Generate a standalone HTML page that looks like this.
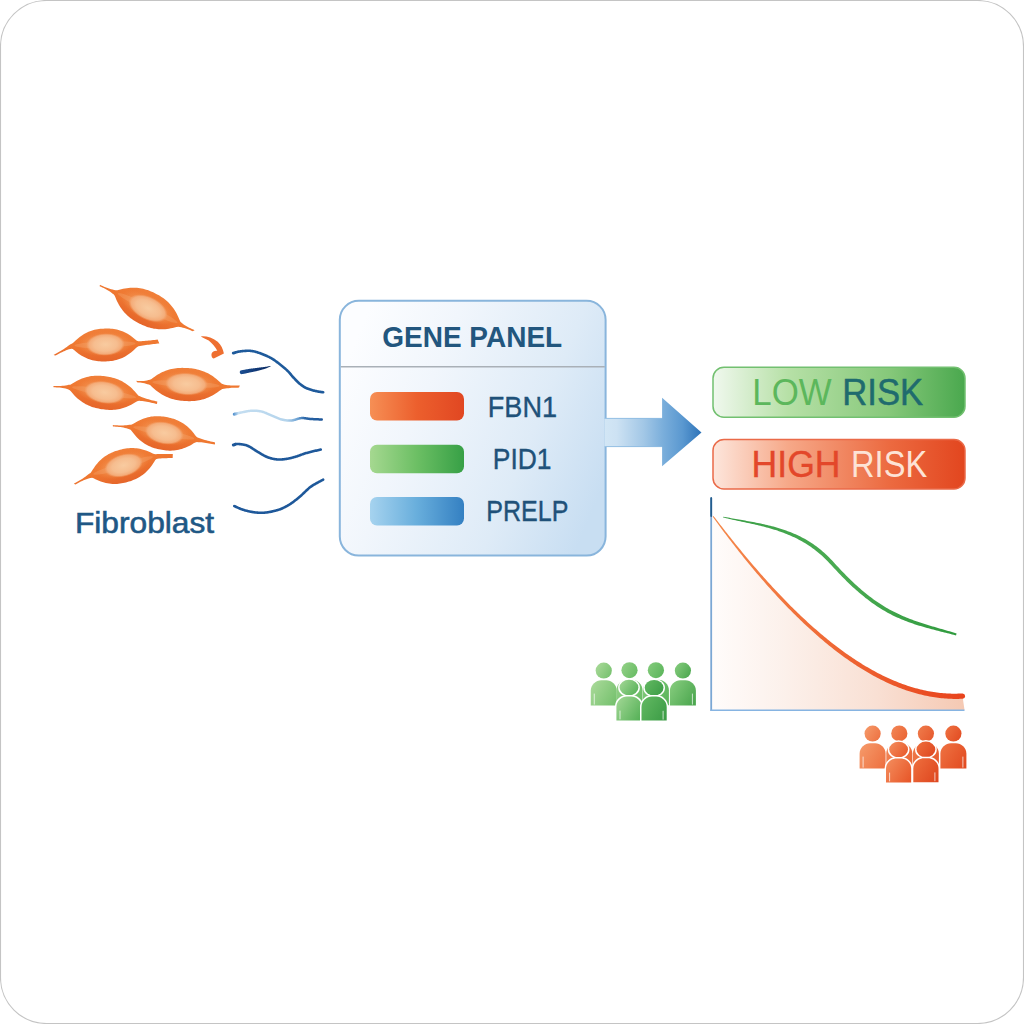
<!DOCTYPE html>
<html><head><meta charset="utf-8">
<style>
html,body{margin:0;padding:0;background:#fff;}
body{width:1024px;height:1024px;overflow:hidden;}
svg{display:block;font-family:"Liberation Sans",sans-serif;}
</style></head>
<body>
<svg width="1024" height="1024" viewBox="0 0 1024 1024">
<defs>
  <linearGradient id="cellBody" x1="0" y1="0" x2="0" y2="1">
    <stop offset="0" stop-color="#f07f39"/>
    <stop offset="0.5" stop-color="#ef7831"/>
    <stop offset="1" stop-color="#e5652a"/>
  </linearGradient>
  <radialGradient id="cellHalo" cx="0.5" cy="0.5" r="0.5">
    <stop offset="0.6" stop-color="#f39a5a" stop-opacity="0.7"/>
    <stop offset="1" stop-color="#f08a48" stop-opacity="0"/>
  </radialGradient>
  <radialGradient id="cellNuc" cx="0.5" cy="0.5" r="0.5">
    <stop offset="0" stop-color="#f8cba0"/>
    <stop offset="0.6" stop-color="#f6bd8f"/>
    <stop offset="0.85" stop-color="#f4ae7c" stop-opacity="0.95"/>
    <stop offset="1" stop-color="#f3a26c" stop-opacity="0"/>
  </radialGradient>
  <linearGradient id="panelFill" x1="0" y1="0.3" x2="1" y2="0.7">
    <stop offset="0" stop-color="#fcfdff"/>
    <stop offset="0.3" stop-color="#f1f6fc"/>
    <stop offset="0.7" stop-color="#deebf7"/>
    <stop offset="1" stop-color="#c8def2"/>
  </linearGradient>
  <linearGradient id="barO" x1="0" x2="1"><stop offset="0" stop-color="#f68f55"/><stop offset="0.5" stop-color="#ec5f2d"/><stop offset="1" stop-color="#e14722"/></linearGradient>
  <linearGradient id="barG" x1="0" x2="1"><stop offset="0" stop-color="#a5d890"/><stop offset="0.5" stop-color="#6cbf64"/><stop offset="1" stop-color="#37a046"/></linearGradient>
  <linearGradient id="barB" x1="0" x2="1"><stop offset="0" stop-color="#a6d3ef"/><stop offset="0.5" stop-color="#68aedc"/><stop offset="1" stop-color="#3480c2"/></linearGradient>
  <linearGradient id="arrowG" gradientUnits="userSpaceOnUse" x1="605" y1="0" x2="702" y2="0"><stop offset="0" stop-color="#d2e6f5"/><stop offset="0.12" stop-color="#cde2f3"/><stop offset="0.4" stop-color="#a2c7e6"/><stop offset="0.6" stop-color="#7aaedb"/><stop offset="0.8" stop-color="#5a98d0"/><stop offset="1" stop-color="#2c72b8"/></linearGradient>
  <linearGradient id="lowG" x1="0" x2="1"><stop offset="0" stop-color="#f0f8ee"/><stop offset="0.3" stop-color="#b6e0a6"/><stop offset="0.7" stop-color="#86c87a"/><stop offset="1" stop-color="#4aa84e"/></linearGradient>
  <linearGradient id="highG" x1="0" x2="1"><stop offset="0" stop-color="#fde6dc"/><stop offset="0.3" stop-color="#f6a888"/><stop offset="0.7" stop-color="#ec6a40"/><stop offset="1" stop-color="#e2461f"/></linearGradient>
  <linearGradient id="chartFill" x1="0" x2="1"><stop offset="0" stop-color="#fffcfb"/><stop offset="0.3" stop-color="#fcf0ea"/><stop offset="0.65" stop-color="#f9e0d4"/><stop offset="1" stop-color="#f5c9b3"/></linearGradient>
  <linearGradient id="line2G" gradientUnits="userSpaceOnUse" x1="233" y1="0" x2="323" y2="0"><stop offset="0" stop-color="#4b8ccc"/><stop offset="0.06" stop-color="#c4def1"/><stop offset="0.6" stop-color="#b4d4ec"/><stop offset="0.72" stop-color="#6aa0d2"/><stop offset="0.8" stop-color="#2a66a8"/><stop offset="1" stop-color="#1d5598"/></linearGradient>
  <linearGradient id="dashG" gradientUnits="userSpaceOnUse" x1="240" y1="0" x2="271" y2="0"><stop offset="0" stop-color="#1b4f92"/><stop offset="0.6" stop-color="#0f3572"/><stop offset="1" stop-color="#0a2a60"/></linearGradient>
  <linearGradient id="pplG" gradientUnits="userSpaceOnUse" x1="591" y1="0" x2="697" y2="0"><stop offset="0" stop-color="#a8da99"/><stop offset="0.5" stop-color="#76c26f"/><stop offset="1" stop-color="#46a64d"/></linearGradient>
  <linearGradient id="pplO" gradientUnits="userSpaceOnUse" x1="860" y1="0" x2="966" y2="0"><stop offset="0" stop-color="#f4905c"/><stop offset="0.5" stop-color="#ee6e3a"/><stop offset="1" stop-color="#e24c22"/></linearGradient>
  <linearGradient id="curveO" gradientUnits="userSpaceOnUse" x1="711" y1="0" x2="965" y2="0"><stop offset="0" stop-color="#f58a4c"/><stop offset="1" stop-color="#e8431c"/></linearGradient>
  <linearGradient id="curveG" gradientUnits="userSpaceOnUse" x1="720" y1="0" x2="960" y2="0"><stop offset="0" stop-color="#3a9e45"/><stop offset="0.5" stop-color="#4aab52"/><stop offset="1" stop-color="#2f9a3e"/></linearGradient>
  
</defs>

<!-- outer frame -->
<rect x="0.5" y="0.5" width="1023" height="1023" rx="46" ry="46" fill="#fff" stroke="#c4c4c4" stroke-width="1.1"/>

<!-- fibroblast cells -->
<g transform="translate(147.4,308.5) rotate(26.3)"><path d="M-53.02,-0.20 L-51.52,-0.25 L-50.02,-0.30 L-48.52,-0.38 L-47.02,-0.47 L-45.53,-0.60 L-44.03,-0.77 L-42.54,-0.98 L-41.04,-1.25 L-39.55,-1.58 L-38.04,-1.97 L-36.53,-2.31 L-35.02,-3.04 L-33.51,-4.30 L-32.00,-5.61 L-30.50,-6.84 L-29.00,-8.00 L-27.50,-9.07 L-26.00,-10.06 L-24.50,-10.97 L-23.00,-11.80 L-21.50,-12.57 L-20.00,-13.26 L-18.50,-13.88 L-17.00,-14.44 L-15.50,-14.94 L-14.00,-15.37 L-12.50,-15.75 L-11.00,-16.07 L-9.50,-16.34 L-8.00,-16.56 L-6.50,-16.73 L-5.00,-16.86 L-3.50,-16.95 L-2.00,-17.00 L-0.50,-17.01 L1.00,-17.01 L2.50,-16.98 L4.00,-16.92 L5.50,-16.82 L7.00,-16.68 L8.50,-16.49 L10.00,-16.26 L11.50,-15.97 L13.00,-15.63 L14.50,-15.23 L16.00,-14.78 L17.50,-14.26 L19.00,-13.68 L20.50,-13.03 L22.00,-12.32 L23.50,-11.53 L25.00,-10.68 L26.50,-9.74 L28.00,-8.72 L29.50,-7.62 L31.00,-6.44 L32.50,-5.18 L33.99,-3.87 L35.48,-2.71 L36.95,-2.33 L38.44,-1.99 L39.94,-1.74 L41.45,-1.56 L42.95,-1.44 L44.46,-1.37 L45.96,-1.35 L47.46,-1.36 L48.96,-1.39 L50.46,-1.44 L51.96,-1.50 L50.79,0.35 L49.29,0.42 L47.79,0.50 L46.29,0.61 L44.79,0.75 L43.30,0.93 L41.80,1.16 L40.31,1.44 L38.81,1.79 L37.30,2.19 L35.78,2.55 L34.26,3.65 L32.75,4.96 L31.25,6.24 L29.75,7.43 L28.25,8.55 L26.75,9.58 L25.25,10.53 L23.75,11.40 L22.25,12.19 L20.75,12.92 L19.25,13.58 L17.75,14.17 L16.25,14.69 L14.75,15.16 L13.25,15.57 L11.75,15.92 L10.25,16.21 L8.75,16.46 L7.25,16.65 L5.75,16.80 L4.25,16.91 L2.75,16.98 L1.25,17.01 L-0.25,17.01 L-1.75,17.00 L-3.25,16.96 L-4.75,16.88 L-6.25,16.76 L-7.75,16.59 L-9.25,16.38 L-10.75,16.12 L-12.25,15.81 L-13.75,15.44 L-15.25,15.01 L-16.75,14.53 L-18.25,13.98 L-19.75,13.36 L-21.25,12.69 L-22.75,11.94 L-24.25,11.11 L-25.75,10.22 L-27.25,9.24 L-28.75,8.18 L-30.25,7.04 L-31.75,5.82 L-33.25,4.52 L-34.74,3.24 L-36.22,2.39 L-37.71,2.12 L-39.20,1.79 L-40.71,1.54 L-42.21,1.35 L-43.72,1.22 L-45.22,1.14 L-46.73,1.10 L-48.23,1.09 L-49.73,1.11 L-51.23,1.15 L-52.73,1.19 Z" fill="url(#cellBody)"/><ellipse cx="0" cy="-1" rx="29.6" ry="12.8" fill="url(#cellHalo)"/><ellipse cx="0" cy="-0.5" rx="33.3" ry="3.4" fill="#f6b07c" opacity="0.3"/><ellipse cx="0.5" cy="-0.5" rx="21.1" ry="11.6" fill="url(#cellNuc)"/></g>
<g transform="translate(105.0,345.0) rotate(-2.1)"><path d="M-51.81,8.07 L-50.47,7.40 L-49.12,6.73 L-47.78,6.05 L-46.45,5.35 L-45.12,4.64 L-43.81,3.92 L-42.50,3.16 L-41.21,2.38 L-39.93,1.57 L-38.67,0.72 L-37.39,-0.16 L-36.01,-1.06 L-34.45,-1.89 L-32.76,-2.63 L-31.11,-3.96 L-29.53,-5.34 L-28.00,-6.64 L-26.50,-7.84 L-25.00,-8.95 L-23.50,-9.97 L-22.00,-10.89 L-20.50,-11.74 L-19.00,-12.50 L-17.50,-13.18 L-16.00,-13.79 L-14.50,-14.33 L-13.00,-14.79 L-11.50,-15.19 L-10.00,-15.53 L-8.50,-15.81 L-7.00,-16.03 L-5.50,-16.19 L-4.00,-16.31 L-2.50,-16.38 L-1.00,-16.41 L0.50,-16.42 L2.00,-16.40 L3.50,-16.34 L5.00,-16.24 L6.50,-16.09 L8.00,-15.89 L9.50,-15.63 L11.00,-15.31 L12.50,-14.94 L14.00,-14.49 L15.50,-13.98 L17.00,-13.40 L18.50,-12.74 L20.00,-12.00 L21.50,-11.19 L23.00,-10.29 L24.50,-9.31 L26.00,-8.23 L27.50,-7.06 L29.00,-5.80 L30.49,-4.46 L31.96,-3.18 L33.42,-2.47 L34.87,-2.45 L36.33,-2.47 L37.82,-2.52 L39.32,-2.58 L40.82,-2.66 L42.31,-2.74 L43.81,-2.84 L45.31,-2.93 L46.81,-3.04 L48.31,-3.15 L49.80,-3.26 L51.30,-3.38 L52.80,-3.50 L54.36,0.39 L52.86,0.51 L51.37,0.63 L49.87,0.75 L48.37,0.88 L46.88,1.01 L45.38,1.14 L43.89,1.28 L42.39,1.42 L40.90,1.58 L39.41,1.74 L37.91,1.91 L36.40,2.09 L34.87,2.26 L33.32,2.44 L31.78,3.36 L30.26,4.68 L28.75,6.01 L27.25,7.26 L25.75,8.41 L24.25,9.48 L22.75,10.45 L21.25,11.33 L19.75,12.13 L18.25,12.85 L16.75,13.50 L15.25,14.07 L13.75,14.57 L12.25,15.00 L10.75,15.37 L9.25,15.68 L7.75,15.93 L6.25,16.12 L4.75,16.26 L3.25,16.35 L1.75,16.40 L0.25,16.42 L-1.25,16.41 L-2.75,16.37 L-4.25,16.29 L-5.75,16.17 L-7.25,15.99 L-8.75,15.76 L-10.25,15.48 L-11.75,15.13 L-13.25,14.72 L-14.75,14.24 L-16.25,13.69 L-17.75,13.07 L-19.25,12.38 L-20.75,11.60 L-22.25,10.75 L-23.75,9.80 L-25.25,8.77 L-26.75,7.65 L-28.25,6.43 L-29.71,5.12 L-31.10,3.79 L-32.40,2.73 L-33.59,2.58 L-34.85,2.65 L-36.22,2.95 L-37.64,3.38 L-39.07,3.87 L-40.49,4.40 L-41.89,4.96 L-43.27,5.55 L-44.65,6.17 L-46.01,6.80 L-47.37,7.45 L-48.72,8.10 L-50.07,8.77 Z" fill="url(#cellBody)"/><ellipse cx="0" cy="-1" rx="27.2" ry="12.3" fill="url(#cellHalo)"/><ellipse cx="0" cy="-0.5" rx="30.6" ry="3.3" fill="#f6b07c" opacity="0.3"/><ellipse cx="0.5" cy="-0.5" rx="19.4" ry="11.2" fill="url(#cellNuc)"/></g>
<g transform="translate(104.0,392.8) rotate(9.2)"><path d="M-51.09,1.31 L-49.59,1.10 L-48.09,0.89 L-46.60,0.66 L-45.11,0.40 L-43.62,0.11 L-42.14,-0.24 L-40.66,-0.64 L-39.19,-1.10 L-37.69,-1.62 L-36.15,-2.19 L-34.58,-2.66 L-33.03,-3.84 L-31.51,-5.14 L-30.00,-6.39 L-28.50,-7.56 L-27.00,-8.64 L-25.50,-9.64 L-24.00,-10.56 L-22.50,-11.39 L-21.00,-12.16 L-19.50,-12.85 L-18.00,-13.47 L-16.50,-14.03 L-15.00,-14.52 L-13.50,-14.95 L-12.00,-15.33 L-10.50,-15.64 L-9.00,-15.90 L-7.50,-16.11 L-6.00,-16.27 L-4.50,-16.39 L-3.00,-16.47 L-1.50,-16.50 L0.00,-16.51 L1.50,-16.50 L3.00,-16.47 L4.50,-16.39 L6.00,-16.27 L7.50,-16.11 L9.00,-15.90 L10.50,-15.64 L12.00,-15.33 L13.50,-14.95 L15.00,-14.52 L16.50,-14.03 L18.00,-13.47 L19.50,-12.85 L21.00,-12.16 L22.50,-11.39 L24.00,-10.56 L25.50,-9.64 L27.00,-8.64 L28.50,-7.56 L30.00,-6.39 L31.50,-5.14 L33.02,-3.84 L34.54,-2.68 L36.08,-2.24 L37.61,-1.92 L39.12,-1.62 L40.61,-1.34 L42.10,-1.09 L43.59,-0.87 L45.08,-0.68 L46.57,-0.51 L48.06,-0.35 L49.56,-0.21 L51.05,-0.09 L52.55,0.03 L54.04,0.15 L54.11,2.56 L52.62,2.45 L51.12,2.34 L49.62,2.24 L48.12,2.16 L46.63,2.08 L45.13,2.03 L43.62,2.00 L42.12,1.99 L40.61,2.01 L39.11,2.06 L37.62,2.16 L36.15,2.32 L34.70,2.58 L33.23,3.64 L31.74,4.93 L30.25,6.19 L28.75,7.37 L27.25,8.47 L25.75,9.48 L24.25,10.41 L22.75,11.26 L21.25,12.04 L19.75,12.74 L18.25,13.37 L16.75,13.94 L15.25,14.44 L13.75,14.89 L12.25,15.27 L10.75,15.59 L9.25,15.86 L7.75,16.08 L6.25,16.25 L4.75,16.37 L3.25,16.46 L1.75,16.50 L0.25,16.51 L-1.25,16.51 L-2.75,16.47 L-4.25,16.41 L-5.75,16.30 L-7.25,16.14 L-8.75,15.94 L-10.25,15.69 L-11.75,15.38 L-13.25,15.02 L-14.75,14.60 L-16.25,14.12 L-17.75,13.57 L-19.25,12.96 L-20.75,12.28 L-22.25,11.53 L-23.75,10.70 L-25.25,9.80 L-26.75,8.81 L-28.25,7.75 L-29.75,6.59 L-31.24,5.36 L-32.72,4.07 L-34.18,2.88 L-35.61,2.39 L-37.06,2.13 L-38.56,1.94 L-40.08,1.85 L-41.61,1.83 L-43.13,1.88 L-44.64,1.98 L-46.15,2.11 L-47.66,2.28 L-49.16,2.46 L-50.66,2.66 Z" fill="url(#cellBody)"/><ellipse cx="0" cy="-1" rx="28.8" ry="12.4" fill="url(#cellHalo)"/><ellipse cx="0" cy="-0.5" rx="32.4" ry="3.3" fill="#f6b07c" opacity="0.3"/><ellipse cx="0.5" cy="-0.5" rx="20.5" ry="11.2" fill="url(#cellNuc)"/></g>
<g transform="translate(186.0,384.5) rotate(3.4)"><path d="M-49.80,-0.70 L-48.29,-0.70 L-46.79,-0.72 L-45.28,-0.78 L-43.78,-0.89 L-42.27,-1.07 L-40.76,-1.33 L-39.26,-1.71 L-37.75,-2.20 L-36.25,-2.53 L-34.75,-3.54 L-33.25,-4.78 L-31.75,-6.00 L-30.25,-7.15 L-28.75,-8.22 L-27.25,-9.21 L-25.75,-10.13 L-24.25,-10.97 L-22.75,-11.74 L-21.25,-12.44 L-19.75,-13.08 L-18.25,-13.66 L-16.75,-14.17 L-15.25,-14.63 L-13.75,-15.03 L-12.25,-15.38 L-10.75,-15.68 L-9.25,-15.92 L-7.75,-16.12 L-6.25,-16.27 L-4.75,-16.39 L-3.25,-16.46 L-1.75,-16.50 L-0.25,-16.51 L1.25,-16.51 L2.75,-16.48 L4.25,-16.42 L5.75,-16.32 L7.25,-16.18 L8.75,-15.99 L10.25,-15.76 L11.75,-15.48 L13.25,-15.15 L14.75,-14.77 L16.25,-14.33 L17.75,-13.84 L19.25,-13.28 L20.75,-12.66 L22.25,-11.98 L23.75,-11.23 L25.25,-10.41 L26.75,-9.52 L28.25,-8.56 L29.75,-7.51 L31.25,-6.39 L32.75,-5.19 L34.24,-3.95 L35.72,-2.82 L37.19,-2.35 L38.66,-2.13 L40.16,-1.94 L41.68,-1.81 L43.20,-1.74 L44.71,-1.71 L46.23,-1.72 L47.74,-1.75 L49.25,-1.81 L50.76,-1.89 L52.27,-1.98 L53.78,-2.08 L53.16,-0.04 L51.65,0.07 L50.14,0.18 L48.64,0.31 L47.13,0.46 L45.63,0.64 L44.12,0.85 L42.63,1.10 L41.13,1.40 L39.62,1.74 L38.09,2.11 L36.55,2.41 L35.02,3.34 L33.51,4.57 L32.00,5.80 L30.50,6.96 L29.00,8.05 L27.50,9.05 L26.00,9.98 L24.50,10.83 L23.00,11.62 L21.50,12.33 L20.00,12.98 L18.50,13.57 L17.00,14.09 L15.50,14.56 L14.00,14.97 L12.50,15.33 L11.00,15.63 L9.50,15.88 L8.00,16.09 L6.50,16.25 L5.00,16.37 L3.50,16.45 L2.00,16.50 L0.50,16.51 L-1.00,16.51 L-2.50,16.49 L-4.00,16.43 L-5.50,16.34 L-7.00,16.20 L-8.50,16.03 L-10.00,15.80 L-11.50,15.53 L-13.00,15.21 L-14.50,14.84 L-16.00,14.41 L-17.50,13.92 L-19.00,13.38 L-20.50,12.77 L-22.00,12.10 L-23.50,11.36 L-25.00,10.56 L-26.50,9.68 L-28.00,8.72 L-29.50,7.69 L-31.00,6.58 L-32.50,5.40 L-34.00,4.16 L-35.50,2.97 L-37.00,2.32 L-38.51,1.94 L-40.01,1.51 L-41.52,1.19 L-43.02,0.97 L-44.53,0.83 L-46.03,0.75 L-47.54,0.71 L-49.05,0.70 Z" fill="url(#cellBody)"/><ellipse cx="0" cy="-1" rx="30.0" ry="12.4" fill="url(#cellHalo)"/><ellipse cx="0" cy="-0.5" rx="33.8" ry="3.3" fill="#f6b07c" opacity="0.3"/><ellipse cx="0.5" cy="-0.5" rx="21.4" ry="11.2" fill="url(#cellNuc)"/></g>
<g transform="translate(163.7,433.4) rotate(10.8)"><path d="M-51.58,1.30 L-50.08,1.13 L-48.58,0.94 L-47.09,0.75 L-45.59,0.53 L-44.10,0.29 L-42.61,0.01 L-41.13,-0.31 L-39.65,-0.67 L-38.17,-1.08 L-36.68,-1.54 L-35.15,-2.03 L-33.59,-2.42 L-32.04,-3.50 L-30.51,-4.86 L-29.00,-6.18 L-27.50,-7.41 L-26.00,-8.55 L-24.50,-9.60 L-23.00,-10.56 L-21.50,-11.43 L-20.00,-12.22 L-18.50,-12.94 L-17.00,-13.58 L-15.50,-14.14 L-14.00,-14.64 L-12.50,-15.07 L-11.00,-15.44 L-9.50,-15.75 L-8.00,-16.00 L-6.50,-16.20 L-5.00,-16.34 L-3.50,-16.44 L-2.00,-16.49 L-0.50,-16.51 L1.00,-16.51 L2.50,-16.48 L4.00,-16.41 L5.50,-16.30 L7.00,-16.14 L8.50,-15.92 L10.00,-15.65 L11.50,-15.33 L13.00,-14.94 L14.50,-14.48 L16.00,-13.96 L17.50,-13.37 L19.00,-12.71 L20.50,-11.97 L22.00,-11.15 L23.50,-10.25 L25.00,-9.26 L26.50,-8.18 L28.00,-7.01 L29.50,-5.75 L31.00,-4.41 L32.51,-3.09 L34.02,-2.32 L35.54,-2.09 L37.05,-1.83 L38.56,-1.61 L40.07,-1.42 L41.58,-1.27 L43.09,-1.14 L44.60,-1.05 L46.11,-0.97 L47.63,-0.91 L49.14,-0.87 L50.65,-0.84 L52.16,-0.81 L52.38,1.39 L50.87,1.37 L49.35,1.35 L47.84,1.34 L46.33,1.35 L44.81,1.37 L43.30,1.41 L41.79,1.48 L40.27,1.58 L38.76,1.71 L37.25,1.88 L35.74,2.10 L34.24,2.32 L32.74,2.91 L31.25,4.18 L29.75,5.53 L28.25,6.81 L26.75,7.99 L25.25,9.09 L23.75,10.09 L22.25,11.00 L20.75,11.84 L19.25,12.59 L17.75,13.26 L16.25,13.87 L14.75,14.40 L13.25,14.87 L11.75,15.27 L10.25,15.60 L8.75,15.88 L7.25,16.10 L5.75,16.27 L4.25,16.39 L2.75,16.47 L1.25,16.51 L-0.25,16.51 L-1.75,16.50 L-3.25,16.45 L-4.75,16.36 L-6.25,16.22 L-7.75,16.04 L-9.25,15.80 L-10.75,15.50 L-12.25,15.14 L-13.75,14.72 L-15.25,14.23 L-16.75,13.67 L-18.25,13.05 L-19.75,12.35 L-21.25,11.57 L-22.75,10.71 L-24.25,9.76 L-25.75,8.73 L-27.25,7.61 L-28.75,6.39 L-30.24,5.09 L-31.71,3.74 L-33.17,2.62 L-34.61,2.33 L-36.07,2.08 L-37.58,1.93 L-39.10,1.85 L-40.62,1.83 L-42.14,1.86 L-43.65,1.93 L-45.16,2.04 L-46.66,2.17 L-48.17,2.32 L-49.67,2.49 L-51.17,2.67 Z" fill="url(#cellBody)"/><ellipse cx="0" cy="-1" rx="27.6" ry="12.4" fill="url(#cellHalo)"/><ellipse cx="0" cy="-0.5" rx="31.1" ry="3.3" fill="#f6b07c" opacity="0.3"/><ellipse cx="0.5" cy="-0.5" rx="19.7" ry="11.2" fill="url(#cellNuc)"/></g>
<g transform="translate(123.3,466.0) rotate(-16.2)"><path d="M-52.55,3.22 L-51.08,2.89 L-49.61,2.57 L-48.14,2.23 L-46.68,1.88 L-45.22,1.50 L-43.76,1.10 L-42.32,0.67 L-40.88,0.21 L-39.44,-0.30 L-38.01,-0.85 L-36.54,-1.44 L-35.00,-2.02 L-33.39,-2.52 L-31.82,-3.72 L-30.27,-5.08 L-28.75,-6.39 L-27.25,-7.61 L-25.75,-8.73 L-24.25,-9.76 L-22.75,-10.71 L-21.25,-11.57 L-19.75,-12.35 L-18.25,-13.05 L-16.75,-13.67 L-15.25,-14.23 L-13.75,-14.72 L-12.25,-15.14 L-10.75,-15.50 L-9.25,-15.80 L-7.75,-16.04 L-6.25,-16.22 L-4.75,-16.36 L-3.25,-16.45 L-1.75,-16.50 L-0.25,-16.51 L1.25,-16.51 L2.75,-16.47 L4.25,-16.40 L5.75,-16.28 L7.25,-16.11 L8.75,-15.88 L10.25,-15.61 L11.75,-15.27 L13.25,-14.87 L14.75,-14.40 L16.25,-13.87 L17.75,-13.27 L19.25,-12.59 L20.75,-11.84 L22.25,-11.01 L23.75,-10.09 L25.25,-9.09 L26.75,-8.00 L28.25,-6.82 L29.76,-5.55 L31.30,-4.21 L32.89,-2.92 L34.51,-2.22 L36.15,-1.87 L37.71,-1.45 L39.20,-1.00 L40.67,-0.57 L42.12,-0.14 L43.59,0.27 L45.05,0.67 L46.51,1.07 L47.98,1.46 L49.45,1.85 L50.92,2.24 L49.66,6.04 L48.19,5.66 L46.72,5.28 L45.25,4.90 L43.78,4.53 L42.30,4.16 L40.83,3.81 L39.35,3.46 L37.88,3.14 L36.43,2.85 L35.06,2.65 L33.74,2.56 L32.37,3.20 L30.95,4.45 L29.49,5.77 L28.00,7.02 L26.50,8.19 L25.00,9.27 L23.50,10.25 L22.00,11.15 L20.50,11.97 L19.00,12.71 L17.50,13.37 L16.00,13.96 L14.50,14.48 L13.00,14.94 L11.50,15.33 L10.00,15.66 L8.50,15.92 L7.00,16.14 L5.50,16.30 L4.00,16.41 L2.50,16.48 L1.00,16.51 L-0.50,16.51 L-2.00,16.49 L-3.50,16.44 L-5.00,16.34 L-6.50,16.20 L-8.00,16.00 L-9.50,15.75 L-11.00,15.44 L-12.50,15.07 L-14.00,14.64 L-15.50,14.14 L-17.00,13.58 L-18.50,12.94 L-20.00,12.22 L-21.50,11.43 L-23.00,10.56 L-24.50,9.60 L-26.00,8.55 L-27.50,7.41 L-29.00,6.18 L-30.48,4.87 L-31.92,3.54 L-33.33,2.55 L-34.70,2.38 L-36.13,2.26 L-37.62,2.27 L-39.13,2.35 L-40.64,2.49 L-42.14,2.67 L-43.63,2.89 L-45.12,3.13 L-46.60,3.40 L-48.08,3.70 L-49.55,4.00 L-51.02,4.32 Z" fill="url(#cellBody)"/><ellipse cx="0" cy="-1" rx="27.6" ry="12.4" fill="url(#cellHalo)"/><ellipse cx="0" cy="-0.5" rx="31.1" ry="3.3" fill="#f6b07c" opacity="0.3"/><ellipse cx="0.5" cy="-0.5" rx="19.7" ry="11.2" fill="url(#cellNuc)"/></g>
<!-- orange hook fragment -->
<path d="M200.9,336.4 C206,335.8 212,337.5 217.7,341.7 C221,344.5 223,349 223.9,353.4 L213.8,358.5 C211.5,358.2 210.8,354 212.2,352.4 C213.5,351 216,350.8 217.3,350.7 C215.5,347 212,343.5 208.7,340.5 C206,338.8 203,338 200.9,336.4 Z" fill="#ee6f30"/>

<!-- blue threads -->
<path d="M232.77,351.87 L233.23,351.72 L233.67,351.57 L234.13,351.41 L234.59,351.25 L235.08,351.09 L235.59,350.93 L236.14,350.88 L236.70,350.73 L237.29,350.60 L237.90,350.48 L238.53,350.37 L239.17,350.26 L239.80,350.16 L240.41,350.07 L240.99,349.99 L241.52,349.91 L242.00,349.85 L242.43,349.79 L242.83,349.75 L243.22,349.71 L243.61,349.68 L244.01,349.65 L244.45,349.63 L244.93,349.60 L245.46,349.57 L246.04,349.54 L246.66,349.51 L247.30,349.48 L247.97,349.46 L248.64,349.46 L249.32,349.47 L249.99,349.50 L250.64,349.56 L251.29,349.63 L251.93,349.72 L252.57,349.82 L253.21,349.93 L253.84,350.06 L254.47,350.19 L255.10,350.34 L255.73,350.49 L256.36,350.67 L256.98,350.85 L257.60,351.04 L258.21,351.24 L258.82,351.45 L259.42,351.66 L260.03,351.87 L260.65,352.09 L261.27,352.32 L261.89,352.56 L262.52,352.79 L263.14,353.04 L263.76,353.29 L264.38,353.54 L265.00,353.80 L265.61,354.06 L266.23,354.31 L266.85,354.58 L267.47,354.85 L268.10,355.13 L268.73,355.42 L269.36,355.72 L270.00,356.05 L270.63,356.38 L271.25,356.72 L271.88,357.07 L272.51,357.44 L273.14,357.81 L273.77,358.20 L274.40,358.60 L275.03,359.02 L275.66,359.46 L276.29,359.92 L276.92,360.38 L277.54,360.86 L278.16,361.34 L278.78,361.82 L279.39,362.30 L280.00,362.77 L280.61,363.24 L281.22,363.71 L281.83,364.19 L282.45,364.67 L283.07,365.16 L283.70,365.66 L284.32,366.18 L284.95,366.72 L285.57,367.26 L286.20,367.82 L286.83,368.39 L287.47,368.97 L288.10,369.56 L288.72,370.16 L289.34,370.78 L289.95,371.41 L290.54,372.06 L291.10,372.71 L291.63,373.36 L292.15,374.01 L292.67,374.65 L293.20,375.30 L293.76,375.96 L294.36,376.62 L295.02,377.33 L295.72,378.08 L296.44,378.84 L297.19,379.61 L297.94,380.36 L298.69,381.09 L299.43,381.78 L300.15,382.41 L300.85,383.01 L301.56,383.57 L302.26,384.11 L302.95,384.61 L303.65,385.09 L304.34,385.54 L305.03,385.97 L305.72,386.36 L306.40,386.71 L307.09,387.03 L307.79,387.32 L308.49,387.59 L309.21,387.85 L309.93,388.09 L310.66,388.33 L311.40,388.56 L312.11,388.78 L312.82,388.99 L313.53,389.19 L314.23,389.37 L314.95,389.54 L315.67,389.71 L316.41,389.87 L317.16,390.03 L317.96,390.18 L318.78,390.32 L319.62,390.45 L320.47,390.58 L321.33,390.70 L322.20,390.82 L323.07,390.95 L323.50,391.02 A1.30,1.30 0 0 1 323.10,393.58 L323.10,393.58 L322.68,393.52 L321.83,393.39 L320.97,393.27 L320.10,393.15 L319.23,393.02 L318.36,392.89 L317.50,392.74 L316.64,392.57 L315.87,392.41 L315.11,392.25 L314.35,392.07 L313.60,391.89 L312.86,391.70 L312.11,391.49 L311.36,391.27 L310.60,391.04 L309.86,390.80 L309.12,390.56 L308.36,390.30 L307.59,390.03 L306.82,389.74 L306.04,389.41 L305.26,389.05 L304.48,388.64 L303.71,388.21 L302.95,387.74 L302.20,387.25 L301.45,386.74 L300.70,386.19 L299.95,385.62 L299.20,385.02 L298.45,384.39 L297.68,383.71 L296.90,382.98 L296.11,382.21 L295.34,381.43 L294.57,380.64 L293.83,379.86 L293.12,379.10 L292.44,378.38 L291.80,377.67 L291.21,376.97 L290.65,376.29 L290.12,375.63 L289.61,374.99 L289.10,374.38 L288.59,373.78 L288.05,373.19 L287.49,372.60 L286.90,372.02 L286.30,371.44 L285.70,370.87 L285.08,370.31 L284.47,369.76 L283.86,369.21 L283.25,368.68 L282.65,368.17 L282.05,367.68 L281.45,367.19 L280.85,366.72 L280.24,366.24 L279.63,365.77 L279.02,365.30 L278.40,364.83 L277.79,364.35 L277.17,363.87 L276.56,363.39 L275.96,362.92 L275.35,362.46 L274.76,362.01 L274.16,361.58 L273.57,361.18 L272.98,360.78 L272.38,360.40 L271.79,360.03 L271.19,359.68 L270.59,359.33 L270.00,358.99 L269.40,358.67 L268.80,358.35 L268.21,358.05 L267.62,357.77 L267.03,357.49 L266.43,357.23 L265.83,356.97 L265.22,356.71 L264.61,356.46 L264.00,356.20 L263.39,355.95 L262.78,355.70 L262.18,355.46 L261.57,355.22 L260.97,354.99 L260.37,354.76 L259.77,354.54 L259.17,354.33 L258.57,354.12 L257.97,353.91 L257.38,353.71 L256.80,353.52 L256.22,353.34 L255.65,353.17 L255.07,353.01 L254.50,352.86 L253.91,352.73 L253.32,352.60 L252.73,352.49 L252.14,352.38 L251.55,352.29 L250.97,352.21 L250.39,352.15 L249.81,352.10 L249.23,352.07 L248.63,352.06 L248.02,352.06 L247.40,352.08 L246.78,352.11 L246.18,352.14 L245.61,352.17 L245.07,352.20 L244.59,352.22 L244.18,352.25 L243.80,352.27 L243.45,352.30 L243.11,352.33 L242.74,352.38 L242.34,352.43 L241.88,352.49 L241.36,352.56 L240.79,352.64 L240.20,352.73 L239.59,352.83 L238.98,352.93 L238.39,353.04 L237.82,353.15 L237.30,353.27 L236.82,353.39 L236.39,353.61 L235.94,353.75 L235.49,353.90 L235.04,354.06 L234.59,354.21 L234.11,354.38 L233.63,354.53 A1.40,1.40 0 0 1 232.77,351.87 Z" fill="#1e5a9b"/>
<path d="M233.04,443.49 L233.24,443.44 L233.42,443.39 L233.60,443.33 L233.78,443.26 L233.98,443.18 L234.19,443.09 L234.42,442.99 L234.68,442.90 L234.96,442.80 L235.27,442.71 L235.60,442.62 L236.00,442.80 L236.36,442.74 L236.76,442.71 L237.18,442.69 L237.63,442.69 L238.09,442.71 L238.56,442.74 L239.07,442.77 L239.61,442.81 L240.18,442.86 L240.77,442.92 L241.38,442.99 L242.02,443.06 L242.66,443.16 L243.32,443.26 L243.99,443.38 L244.66,443.52 L245.33,443.67 L246.00,443.84 L246.67,444.04 L247.32,444.25 L247.97,444.49 L248.62,444.76 L249.25,445.05 L249.88,445.38 L250.51,445.72 L251.13,446.08 L251.74,446.45 L252.35,446.84 L252.96,447.23 L253.56,447.63 L254.16,448.04 L254.75,448.44 L255.35,448.83 L255.93,449.22 L256.51,449.60 L257.09,449.96 L257.66,450.31 L258.25,450.65 L258.85,451.00 L259.45,451.36 L260.05,451.72 L260.65,452.08 L261.24,452.43 L261.83,452.79 L262.42,453.14 L263.01,453.48 L263.59,453.81 L264.17,454.14 L264.75,454.45 L265.32,454.75 L265.89,455.04 L266.46,455.31 L267.02,455.56 L267.58,455.79 L268.15,456.02 L268.72,456.23 L269.29,456.43 L269.86,456.62 L270.43,456.80 L270.99,456.97 L271.56,457.12 L272.12,457.27 L272.68,457.41 L273.25,457.53 L273.81,457.65 L274.38,457.76 L274.94,457.85 L275.51,457.94 L276.07,458.01 L276.64,458.08 L277.21,458.13 L277.77,458.17 L278.33,458.20 L278.90,458.22 L279.47,458.22 L280.04,458.22 L280.61,458.20 L281.18,458.18 L281.76,458.14 L282.33,458.10 L282.91,458.05 L283.49,457.99 L284.07,457.93 L284.65,457.86 L285.24,457.78 L285.82,457.70 L286.41,457.61 L286.98,457.52 L287.56,457.43 L288.13,457.32 L288.71,457.20 L289.29,457.08 L289.87,456.94 L290.45,456.80 L291.04,456.66 L291.62,456.51 L292.21,456.35 L292.79,456.19 L293.38,456.03 L293.97,455.86 L294.56,455.69 L295.15,455.52 L295.73,455.34 L296.31,455.17 L296.86,454.99 L297.40,454.81 L297.94,454.62 L298.47,454.43 L298.99,454.23 L299.53,454.03 L300.07,453.82 L300.61,453.61 L301.18,453.39 L301.75,453.18 L302.35,452.95 L302.97,452.73 L303.62,452.51 L304.29,452.29 L305.00,452.07 L305.74,451.85 L306.54,451.63 L307.36,451.40 L308.22,451.18 L309.11,450.95 L310.01,450.73 L310.94,450.50 L311.88,450.27 L312.84,450.05 L313.80,449.82 L314.77,449.59 L315.74,449.37 L316.71,449.14 L317.67,448.91 L318.63,448.69 L319.57,448.46 L320.49,448.24 A1.30,1.30 0 0 1 321.11,450.76 L321.11,450.76 L320.18,450.99 L319.23,451.22 L318.27,451.44 L317.30,451.67 L316.33,451.90 L315.36,452.12 L314.40,452.35 L313.44,452.58 L312.49,452.80 L311.55,453.03 L310.64,453.25 L309.74,453.47 L308.87,453.70 L308.03,453.92 L307.23,454.13 L306.46,454.35 L305.76,454.56 L305.09,454.77 L304.45,454.98 L303.83,455.19 L303.24,455.40 L302.66,455.61 L302.10,455.82 L301.55,456.03 L301.00,456.25 L300.46,456.46 L299.92,456.66 L299.37,456.87 L298.81,457.07 L298.25,457.27 L297.67,457.46 L297.08,457.65 L296.47,457.83 L295.88,458.01 L295.28,458.18 L294.69,458.36 L294.09,458.53 L293.49,458.70 L292.89,458.86 L292.28,459.02 L291.68,459.18 L291.07,459.33 L290.46,459.48 L289.85,459.61 L289.24,459.75 L288.63,459.87 L288.02,459.98 L287.41,460.09 L286.79,460.19 L286.19,460.27 L285.58,460.36 L284.98,460.44 L284.37,460.51 L283.76,460.58 L283.15,460.64 L282.54,460.69 L281.93,460.74 L281.32,460.77 L280.70,460.80 L280.08,460.82 L279.47,460.82 L278.85,460.82 L278.23,460.80 L277.61,460.77 L276.98,460.72 L276.37,460.66 L275.75,460.59 L275.14,460.51 L274.53,460.42 L273.92,460.32 L273.31,460.20 L272.70,460.08 L272.09,459.94 L271.49,459.79 L270.88,459.63 L270.27,459.46 L269.66,459.28 L269.05,459.09 L268.45,458.89 L267.84,458.67 L267.23,458.45 L266.62,458.21 L265.99,457.95 L265.37,457.67 L264.75,457.38 L264.14,457.07 L263.53,456.75 L262.92,456.42 L262.31,456.08 L261.70,455.73 L261.10,455.38 L260.50,455.02 L259.90,454.66 L259.30,454.30 L258.71,453.95 L258.12,453.59 L257.53,453.24 L256.94,452.90 L256.34,452.55 L255.73,452.17 L255.11,451.79 L254.51,451.39 L253.90,451.00 L253.30,450.59 L252.71,450.19 L252.12,449.80 L251.53,449.41 L250.95,449.03 L250.37,448.66 L249.80,448.31 L249.23,447.98 L248.67,447.67 L248.11,447.39 L247.57,447.14 L247.03,446.91 L246.48,446.71 L245.90,446.52 L245.32,446.35 L244.72,446.20 L244.11,446.06 L243.50,445.94 L242.89,445.83 L242.28,445.73 L241.67,445.64 L241.08,445.57 L240.50,445.50 L239.94,445.45 L239.40,445.40 L238.89,445.37 L238.40,445.33 L237.95,445.31 L237.55,445.29 L237.22,445.29 L236.93,445.30 L236.67,445.33 L236.44,445.36 L236.28,445.64 L236.10,445.69 L235.92,445.75 L235.75,445.81 L235.56,445.88 L235.36,445.96 L235.15,446.04 L234.92,446.14 L234.66,446.24 L234.38,446.33 L234.07,446.43 L233.76,446.51 A1.55,1.55 0 0 1 233.04,443.49 Z" fill="#1e589a"/>
<path d="M234.81,504.90 L235.32,505.12 L235.82,505.34 L236.32,505.57 L236.82,505.79 L237.31,506.01 L237.80,506.24 L238.28,506.46 L238.77,506.68 L239.25,506.89 L239.74,507.11 L240.23,507.32 L240.72,507.52 L241.22,507.72 L241.72,507.91 L242.23,508.10 L242.74,508.28 L243.27,508.45 L243.82,508.62 L244.38,508.79 L244.94,508.96 L245.52,509.13 L246.10,509.29 L246.68,509.44 L247.27,509.60 L247.87,509.74 L248.46,509.89 L249.06,510.02 L249.66,510.15 L250.25,510.28 L250.85,510.40 L251.44,510.51 L252.03,510.62 L252.61,510.72 L253.19,510.81 L253.78,510.90 L254.36,510.98 L254.95,511.06 L255.53,511.14 L256.11,511.21 L256.69,511.27 L257.28,511.32 L257.85,511.37 L258.43,511.41 L259.01,511.45 L259.59,511.48 L260.16,511.50 L260.74,511.51 L261.31,511.51 L261.88,511.51 L262.45,511.49 L263.02,511.47 L263.59,511.44 L264.16,511.39 L264.73,511.35 L265.30,511.29 L265.87,511.22 L266.44,511.15 L267.01,511.07 L267.58,510.99 L268.16,510.90 L268.73,510.80 L269.31,510.69 L269.89,510.59 L270.46,510.47 L271.04,510.35 L271.63,510.23 L272.21,510.10 L272.80,509.97 L273.38,509.84 L273.97,509.70 L274.55,509.56 L275.13,509.41 L275.71,509.26 L276.29,509.10 L276.87,508.93 L277.45,508.76 L278.03,508.57 L278.61,508.38 L279.18,508.18 L279.76,507.97 L280.33,507.75 L280.91,507.52 L281.48,507.28 L282.06,507.03 L282.64,506.76 L283.22,506.49 L283.80,506.21 L284.38,505.92 L284.96,505.62 L285.54,505.31 L286.12,504.99 L286.71,504.66 L287.29,504.32 L287.87,503.98 L288.45,503.63 L289.03,503.26 L289.61,502.89 L290.19,502.51 L290.77,502.12 L291.34,501.73 L291.92,501.32 L292.49,500.90 L293.07,500.46 L293.64,500.02 L294.22,499.57 L294.80,499.10 L295.38,498.63 L295.96,498.15 L296.54,497.66 L297.12,497.17 L297.71,496.67 L298.29,496.17 L298.88,495.67 L299.47,495.17 L300.06,494.66 L300.64,494.17 L301.21,493.66 L301.77,493.15 L302.34,492.62 L302.90,492.09 L303.47,491.54 L304.04,490.99 L304.61,490.43 L305.19,489.87 L305.78,489.31 L306.37,488.76 L306.98,488.20 L307.60,487.65 L308.24,487.11 L308.89,486.57 L309.55,486.05 L310.24,485.54 L310.96,485.04 L311.70,484.55 L312.45,484.07 L313.21,483.61 L313.98,483.15 L314.76,482.71 L315.54,482.27 L316.33,481.84 L317.12,481.42 L317.91,481.00 L318.70,480.58 L319.48,480.16 L320.26,479.74 L321.03,479.32 L321.80,478.90 L322.56,478.47 A1.30,1.30 0 0 1 323.84,480.73 L323.84,480.73 L323.07,481.17 L322.28,481.60 L321.50,482.03 L320.71,482.45 L319.92,482.87 L319.13,483.29 L318.35,483.71 L317.57,484.13 L316.80,484.55 L316.04,484.98 L315.29,485.40 L314.55,485.84 L313.83,486.28 L313.12,486.73 L312.43,487.19 L311.76,487.66 L311.13,488.12 L310.51,488.60 L309.91,489.10 L309.31,489.61 L308.72,490.13 L308.14,490.66 L307.56,491.20 L306.99,491.75 L306.42,492.30 L305.85,492.85 L305.27,493.41 L304.70,493.96 L304.12,494.51 L303.54,495.06 L302.95,495.60 L302.35,496.13 L301.75,496.64 L301.16,497.14 L300.57,497.65 L299.98,498.15 L299.39,498.65 L298.80,499.16 L298.21,499.65 L297.62,500.15 L297.03,500.64 L296.43,501.12 L295.84,501.60 L295.24,502.07 L294.64,502.53 L294.04,502.98 L293.44,503.43 L292.84,503.86 L292.23,504.28 L291.63,504.68 L291.02,505.07 L290.42,505.46 L289.81,505.84 L289.21,506.21 L288.60,506.57 L287.99,506.92 L287.39,507.26 L286.78,507.59 L286.17,507.92 L285.56,508.23 L284.95,508.54 L284.34,508.83 L283.73,509.12 L283.12,509.40 L282.51,509.67 L281.90,509.93 L281.28,510.17 L280.67,510.41 L280.05,510.63 L279.44,510.85 L278.83,511.05 L278.22,511.24 L277.61,511.42 L277.00,511.60 L276.39,511.77 L275.78,511.93 L275.18,512.08 L274.57,512.23 L273.97,512.37 L273.37,512.51 L272.77,512.64 L272.17,512.77 L271.58,512.90 L270.98,513.02 L270.38,513.14 L269.78,513.25 L269.18,513.36 L268.58,513.46 L267.98,513.56 L267.38,513.65 L266.78,513.73 L266.18,513.81 L265.57,513.87 L264.97,513.93 L264.36,513.99 L263.76,514.03 L263.15,514.07 L262.54,514.09 L261.93,514.11 L261.32,514.11 L260.70,514.11 L260.09,514.10 L259.48,514.08 L258.87,514.05 L258.26,514.01 L257.65,513.96 L257.04,513.91 L256.43,513.85 L255.82,513.79 L255.22,513.72 L254.61,513.64 L254.00,513.56 L253.40,513.47 L252.79,513.38 L252.19,513.28 L251.58,513.18 L250.97,513.07 L250.35,512.95 L249.73,512.83 L249.11,512.70 L248.49,512.56 L247.87,512.42 L247.25,512.27 L246.63,512.12 L246.02,511.96 L245.41,511.80 L244.81,511.63 L244.22,511.46 L243.63,511.28 L243.05,511.11 L242.48,510.93 L241.91,510.74 L241.35,510.55 L240.80,510.35 L240.27,510.14 L239.74,509.93 L239.22,509.71 L238.71,509.49 L238.20,509.27 L237.70,509.05 L237.21,508.83 L236.71,508.60 L236.23,508.38 L235.74,508.16 L235.26,507.94 L234.77,507.72 L234.28,507.51 L233.79,507.30 A1.30,1.30 0 0 1 234.81,504.90 Z" fill="#1e589a"/>
<path d="M233.95,412.74 L234.44,412.62 L234.93,412.50 L235.42,412.38 L235.90,412.25 L236.39,412.13 L236.94,412.24 L237.43,412.12 L237.92,411.99 L238.42,411.86 L238.92,411.74 L239.43,411.61 L239.94,411.49 L240.46,411.37 L240.99,411.25 L241.53,411.14 L242.08,411.03 L242.64,410.92 L243.19,410.81 L243.76,410.70 L244.33,410.58 L244.92,410.46 L245.52,410.34 L246.12,410.23 L246.73,410.11 L247.35,410.00 L247.97,409.90 L248.59,409.80 L249.22,409.72 L249.85,409.64 L250.48,409.57 L251.11,409.52 L251.74,409.47 L252.37,409.45 L252.98,409.44 L253.59,409.44 L254.20,409.44 L254.82,409.45 L255.43,409.48 L256.04,409.51 L256.66,409.55 L257.27,409.60 L257.89,409.67 L258.50,409.74 L259.12,409.82 L259.74,409.92 L260.35,410.02 L260.97,410.14 L261.58,410.27 L262.20,410.41 L262.82,410.57 L263.45,410.75 L264.07,410.95 L264.68,411.16 L265.30,411.39 L265.90,411.63 L266.51,411.87 L267.11,412.13 L267.70,412.39 L268.30,412.65 L268.88,412.92 L269.47,413.19 L270.06,413.45 L270.64,413.71 L271.21,413.96 L271.79,414.20 L272.37,414.44 L272.97,414.69 L273.58,414.94 L274.18,415.20 L274.78,415.47 L275.37,415.73 L275.97,416.00 L276.56,416.26 L277.15,416.52 L277.73,416.77 L278.31,417.02 L278.89,417.25 L279.47,417.48 L280.04,417.69 L280.60,417.88 L281.17,418.06 L281.73,418.22 L282.29,418.36 L282.87,418.49 L283.44,418.62 L284.02,418.74 L284.59,418.84 L285.17,418.94 L285.74,419.03 L286.31,419.10 L286.88,419.17 L287.45,419.22 L288.02,419.26 L288.59,419.29 L289.16,419.31 L289.72,419.31 L290.29,419.31 L290.85,419.29 L291.40,419.25 L291.93,419.20 L292.46,419.12 L292.99,419.01 L293.54,418.87 L294.09,418.72 L294.66,418.55 L295.23,418.36 L295.81,418.17 L296.40,417.97 L296.99,417.78 L297.60,417.59 L298.21,417.41 L298.84,417.24 L299.47,417.09 L300.12,416.97 L300.77,416.88 L301.43,416.83 L302.06,416.81 L302.69,416.81 L303.32,416.83 L303.94,416.87 L304.55,416.93 L305.16,416.99 L305.76,417.07 L306.36,417.15 L306.95,417.24 L307.55,417.33 L308.14,417.41 L308.73,417.50 L309.32,417.58 L309.90,417.65 L310.49,417.71 L311.09,417.75 L311.72,417.79 L312.37,417.83 L313.02,417.87 L313.68,417.90 L314.35,417.94 L315.02,417.97 L315.69,418.00 L316.37,418.03 L317.05,418.05 L317.73,418.08 L318.41,418.11 L319.09,418.14 L319.77,418.16 L320.45,418.19 L321.13,418.22 L321.81,418.25 A1.25,1.25 0 0 1 321.69,420.75 L321.69,420.75 L321.02,420.72 L320.35,420.69 L319.67,420.66 L318.99,420.63 L318.31,420.61 L317.63,420.58 L316.95,420.55 L316.26,420.52 L315.58,420.50 L314.91,420.47 L314.23,420.43 L313.56,420.40 L312.89,420.37 L312.23,420.33 L311.57,420.29 L310.91,420.25 L310.27,420.20 L309.63,420.13 L309.00,420.06 L308.39,419.97 L307.78,419.89 L307.18,419.80 L306.59,419.71 L306.01,419.63 L305.43,419.55 L304.86,419.48 L304.30,419.41 L303.74,419.36 L303.19,419.33 L302.65,419.31 L302.10,419.31 L301.56,419.33 L301.04,419.37 L300.51,419.44 L299.98,419.54 L299.44,419.67 L298.89,419.81 L298.33,419.98 L297.76,420.16 L297.18,420.35 L296.60,420.54 L296.01,420.74 L295.41,420.93 L294.79,421.12 L294.17,421.29 L293.54,421.44 L292.90,421.58 L292.25,421.68 L291.60,421.75 L290.97,421.78 L290.35,421.81 L289.73,421.81 L289.11,421.81 L288.49,421.79 L287.86,421.76 L287.25,421.71 L286.63,421.65 L286.01,421.58 L285.39,421.50 L284.77,421.41 L284.16,421.30 L283.54,421.19 L282.93,421.07 L282.31,420.93 L281.70,420.79 L281.08,420.63 L280.45,420.45 L279.82,420.25 L279.20,420.04 L278.58,419.81 L277.97,419.58 L277.36,419.33 L276.75,419.07 L276.15,418.81 L275.54,418.55 L274.95,418.28 L274.35,418.02 L273.76,417.75 L273.17,417.49 L272.59,417.24 L272.01,417.00 L271.43,416.76 L270.83,416.51 L270.23,416.26 L269.63,416.00 L269.03,415.73 L268.44,415.46 L267.85,415.20 L267.27,414.94 L266.69,414.68 L266.11,414.42 L265.54,414.18 L264.97,413.94 L264.40,413.72 L263.84,413.51 L263.28,413.32 L262.72,413.14 L262.17,412.98 L261.61,412.84 L261.04,412.71 L260.47,412.59 L259.90,412.48 L259.33,412.38 L258.76,412.30 L258.19,412.22 L257.62,412.15 L257.04,412.09 L256.47,412.04 L255.89,412.01 L255.32,411.97 L254.74,411.95 L254.16,411.94 L253.59,411.94 L253.01,411.94 L252.43,411.95 L251.87,411.97 L251.30,412.01 L250.72,412.06 L250.13,412.12 L249.55,412.19 L248.96,412.28 L248.36,412.37 L247.77,412.47 L247.18,412.57 L246.59,412.68 L246.00,412.80 L245.41,412.91 L244.83,413.03 L244.25,413.15 L243.68,413.26 L243.12,413.37 L242.57,413.48 L242.04,413.59 L241.53,413.70 L241.02,413.81 L240.51,413.93 L240.01,414.04 L239.52,414.17 L239.03,414.29 L238.54,414.41 L238.06,414.54 L237.57,414.66 L237.14,415.03 L236.65,415.16 L236.16,415.28 L235.66,415.41 L235.16,415.53 L234.65,415.66 A1.50,1.50 0 0 1 233.95,412.74 Z" fill="url(#line2G)"/>
<path d="M241.35,370.28 L241.56,370.24 L241.76,370.21 L241.95,370.17 L242.15,370.14 L242.33,370.11 L242.52,370.07 L242.71,370.04 L242.90,370.01 L243.09,369.97 L243.29,369.94 L243.49,369.90 L243.70,369.87 L243.92,369.83 L244.15,369.79 L244.38,369.74 L244.63,369.70 L244.89,369.65 L245.16,369.60 L245.45,369.55 L245.74,369.49 L246.05,369.43 L246.36,369.37 L246.68,369.31 L247.01,369.25 L247.34,369.19 L247.67,369.13 L248.01,369.07 L248.35,369.01 L248.68,368.95 L249.02,368.89 L249.35,368.84 L249.67,368.79 L250.00,368.74 L250.33,368.69 L250.65,368.65 L250.98,368.61 L251.30,368.57 L251.62,368.53 L251.94,368.49 L252.26,368.46 L252.58,368.42 L252.89,368.39 L253.21,368.35 L253.51,368.32 L253.82,368.29 L254.12,368.25 L254.42,368.22 L254.71,368.18 L255.01,368.14 L255.30,368.11 L255.58,368.07 L255.86,368.03 L256.14,367.99 L256.42,367.96 L256.70,367.92 L256.98,367.88 L257.26,367.84 L257.54,367.80 L257.83,367.76 L258.12,367.72 L258.41,367.68 L258.71,367.64 L259.02,367.60 L259.33,367.56 L259.66,367.52 L259.99,367.48 L260.32,367.44 L260.65,367.41 L260.99,367.37 L261.33,367.33 L261.67,367.30 L262.02,367.26 L262.36,367.22 L262.71,367.18 L263.06,367.14 L263.40,367.10 L263.75,367.06 L264.10,367.02 L264.44,366.97 L264.78,366.92 L265.15,366.87 L265.53,366.81 L265.90,366.75 L266.28,366.69 L266.66,366.63 L267.04,366.56 L267.42,366.49 L267.81,366.42 L268.20,366.35 L268.59,366.28 L268.98,366.22 L269.36,366.15 L269.75,366.08 L270.14,366.02 L270.53,365.96 L270.67,366.44 L270.31,366.59 L269.95,366.75 L269.59,366.91 L269.23,367.06 L268.87,367.22 L268.50,367.37 L268.14,367.53 L267.78,367.68 L267.41,367.83 L267.05,367.98 L266.68,368.13 L266.31,368.27 L265.95,368.41 L265.58,368.55 L265.22,368.68 L264.87,368.79 L264.52,368.91 L264.18,369.02 L263.83,369.13 L263.49,369.23 L263.14,369.33 L262.80,369.43 L262.46,369.53 L262.12,369.62 L261.78,369.72 L261.45,369.81 L261.13,369.90 L260.80,369.98 L260.48,370.07 L260.17,370.15 L259.87,370.24 L259.56,370.32 L259.27,370.40 L258.98,370.48 L258.69,370.56 L258.41,370.64 L258.13,370.71 L257.85,370.79 L257.57,370.86 L257.29,370.93 L257.02,371.00 L256.74,371.07 L256.46,371.14 L256.17,371.21 L255.88,371.28 L255.59,371.35 L255.29,371.42 L254.98,371.49 L254.67,371.56 L254.36,371.62 L254.04,371.69 L253.73,371.75 L253.41,371.81 L253.10,371.87 L252.79,371.93 L252.47,371.99 L252.16,372.05 L251.85,372.11 L251.54,372.17 L251.23,372.23 L250.93,372.29 L250.63,372.35 L250.33,372.41 L250.02,372.48 L249.71,372.54 L249.39,372.61 L249.07,372.68 L248.75,372.76 L248.43,372.83 L248.10,372.90 L247.78,372.98 L247.46,373.05 L247.14,373.12 L246.82,373.19 L246.52,373.26 L246.22,373.32 L245.92,373.39 L245.64,373.44 L245.37,373.50 L245.11,373.55 L244.87,373.60 L244.63,373.65 L244.41,373.69 L244.19,373.73 L243.98,373.77 L243.78,373.81 L243.59,373.84 L243.39,373.88 L243.20,373.91 L243.01,373.95 L242.83,373.98 L242.64,374.01 L242.44,374.05 L242.25,374.08 L242.05,374.12 A1.95,1.95 0 0 1 241.35,370.28 Z" fill="url(#dashG)"/>

<text x="74.9" y="532.7" font-size="30.3" fill="#1f5885" stroke="#1f5885" stroke-width="0.6" textLength="139.3" lengthAdjust="spacingAndGlyphs">Fibroblast</text>

<!-- gene panel -->
<rect x="339.8" y="300.8" width="265.8" height="254.8" rx="19" ry="19" fill="url(#panelFill)" stroke="#89b5dc" stroke-width="2"/>
<line x1="340.8" y1="366.7" x2="604.8" y2="366.7" stroke="#a9b0b7" stroke-width="1.6"/>
<text x="382.2" y="347.1" font-size="29.6" font-weight="bold" fill="#22567e" textLength="180" lengthAdjust="spacingAndGlyphs">GENE PANEL</text>
<rect x="370" y="392" width="94" height="28.5" rx="7" fill="url(#barO)"/>
<rect x="370" y="444.7" width="94" height="28.5" rx="7" fill="url(#barG)"/>
<rect x="370" y="497" width="94" height="28.5" rx="7" fill="url(#barB)"/>
<g font-size="30" fill="#205179" stroke="#205179" stroke-width="0.4">
<text x="487.8" y="416.7" textLength="69.2" lengthAdjust="spacingAndGlyphs">FBN1</text>
<text x="492.8" y="469.1" textLength="58.7" lengthAdjust="spacingAndGlyphs">PID1</text>
<text x="486.2" y="521.3" textLength="82.2" lengthAdjust="spacingAndGlyphs">PRELP</text>
</g>

<!-- arrow -->
<path d="M 604.5,418.1 L 662.1,418.1 L 662.1,397.7 L 701.5,432.4 L 662.1,466.3 L 662.1,446.9 L 604.5,446.9 Z" fill="url(#arrowG)"/>
<path d="M 604.5,418.4 L 662.1,418.4 M 604.5,446.6 L 662.1,446.6" stroke="#8dbbe2" stroke-width="0.9" fill="none"/>

<!-- risk boxes -->
<rect x="713" y="367.3" width="252" height="50" rx="11" fill="url(#lowG)" stroke="#72c070" stroke-width="1.5"/>
<g font-size="36"><text x="752.3" y="405" fill="#5cb75c" textLength="79.4" lengthAdjust="spacingAndGlyphs">LOW</text>
<text x="842.3" y="405" fill="#1f6b6e" stroke="#1f6b6e" stroke-width="0.5" textLength="80.8" lengthAdjust="spacingAndGlyphs">RISK</text></g>
<rect x="713" y="439.5" width="252" height="49.5" rx="11" fill="url(#highG)" stroke="#ea6a48" stroke-width="1.5"/>
<g font-size="36"><text x="751.6" y="477" fill="#e3472a" stroke="#e3472a" stroke-width="0.4" textLength="88.9" lengthAdjust="spacingAndGlyphs">HIGH</text>
<text x="851.1" y="477" fill="#fde3d6" textLength="76.05" lengthAdjust="spacingAndGlyphs">RISK</text></g>

<!-- chart -->
<path d="M713.00,516.18 L715.50,519.54 L718.01,522.88 L720.51,526.19 L723.01,529.48 L725.52,532.75 L728.02,535.99 L730.52,539.20 L733.03,542.39 L735.53,545.55 L738.03,548.69 L740.54,551.80 L743.04,554.88 L745.54,557.93 L748.05,560.96 L750.55,563.96 L753.05,566.94 L755.56,569.88 L758.06,572.80 L760.56,575.69 L763.07,578.56 L765.57,581.39 L768.07,584.19 L770.58,586.97 L773.08,589.72 L775.58,592.43 L778.09,595.12 L780.59,597.78 L783.09,600.40 L785.60,603.00 L788.10,605.57 L790.60,608.10 L793.11,610.61 L795.61,613.08 L798.11,615.52 L800.62,617.93 L803.12,620.31 L805.62,622.65 L808.13,624.97 L810.63,627.25 L813.13,629.50 L815.64,631.71 L818.14,633.89 L820.64,636.04 L823.15,638.16 L825.65,640.24 L828.15,642.28 L830.66,644.30 L833.16,646.28 L835.66,648.22 L838.17,650.13 L840.67,652.00 L843.17,653.84 L845.68,655.64 L848.18,657.41 L850.68,659.14 L853.19,660.83 L855.69,662.49 L858.19,664.11 L860.70,665.69 L863.20,667.24 L865.70,668.74 L868.21,670.22 L870.71,671.65 L873.21,673.04 L875.72,674.40 L878.22,675.72 L880.72,677.00 L883.23,678.24 L885.73,679.44 L888.23,680.60 L890.74,681.73 L893.24,682.81 L895.74,683.85 L898.25,684.85 L900.75,685.82 L903.25,686.74 L905.76,687.62 L908.26,688.46 L910.76,689.25 L913.27,690.01 L915.77,690.72 L918.27,691.40 L920.78,692.03 L923.28,692.61 L925.78,693.16 L928.29,693.66 L930.79,694.12 L933.29,694.53 L935.80,694.91 L938.30,695.23 L940.80,695.52 L943.31,695.76 L945.81,695.95 L948.31,696.10 L950.82,696.21 L953.32,696.27 L955.82,696.28 L958.33,696.25 L960.83,696.18 L962.50,696.10 L964.5,710 L711.5,710 Z" fill="url(#chartFill)"/>
<line x1="711.2" y1="498" x2="711.2" y2="711" stroke="#7ba7d4" stroke-width="1.8"/>
<line x1="711.2" y1="498" x2="711.2" y2="516" stroke="#235d8e" stroke-width="1.8" stroke-linecap="round"/>
<line x1="710.5" y1="710.2" x2="964.5" y2="710.2" stroke="#86b4e2" stroke-width="1.6"/>
<path d="M713.36,515.91 L715.11,518.09 L716.82,520.29 L718.53,522.48 L720.23,524.67 L721.93,526.85 L723.63,529.01 L725.32,531.17 L727.01,533.32 L728.71,535.45 L730.40,537.58 L732.09,539.69 L733.78,541.80 L735.46,543.89 L737.15,545.97 L738.84,548.04 L740.52,550.10 L742.21,552.15 L743.89,554.18 L745.58,556.21 L747.26,558.22 L748.94,560.22 L750.63,562.21 L752.31,564.18 L753.99,566.14 L755.67,568.10 L757.36,570.04 L759.04,571.96 L760.72,573.88 L762.40,575.78 L764.08,577.67 L765.76,579.54 L767.44,581.41 L769.11,583.26 L770.79,585.10 L772.47,586.92 L774.15,588.74 L775.83,590.53 L777.50,592.32 L779.18,594.09 L780.86,595.85 L782.54,597.60 L784.21,599.33 L785.89,601.05 L787.56,602.76 L789.24,604.45 L790.91,606.13 L792.59,607.79 L794.26,609.44 L795.94,611.08 L797.61,612.70 L799.28,614.31 L800.96,615.91 L802.63,617.49 L804.30,619.05 L805.98,620.61 L807.65,622.14 L809.32,623.67 L810.99,625.18 L812.66,626.67 L814.33,628.15 L816.01,629.61 L817.68,631.06 L819.35,632.50 L821.02,633.92 L822.69,635.33 L824.36,636.72 L826.02,638.09 L827.69,639.45 L829.36,640.80 L831.03,642.13 L832.70,643.44 L834.36,644.74 L836.03,646.02 L837.70,647.29 L839.36,648.54 L841.03,649.78 L842.70,651.00 L844.36,652.20 L846.03,653.39 L847.69,654.56 L849.36,655.72 L851.02,656.86 L852.68,657.99 L854.35,659.10 L856.01,660.19 L857.67,661.26 L859.34,662.32 L861.00,663.37 L862.66,664.39 L864.32,665.40 L865.98,666.40 L867.64,667.37 L869.30,668.33 L870.96,669.28 L872.62,670.20 L874.28,671.11 L875.94,672.00 L877.59,672.88 L879.25,673.74 L880.91,674.58 L882.56,675.40 L884.22,676.21 L885.88,677.00 L887.53,677.77 L889.19,678.52 L890.84,679.26 L892.49,679.98 L894.15,680.68 L895.80,681.36 L897.45,682.02 L899.10,682.67 L900.75,683.30 L902.41,683.91 L904.06,684.51 L905.71,685.08 L907.36,685.64 L909.01,686.18 L910.65,686.70 L912.30,687.20 L913.95,687.69 L915.60,688.15 L917.24,688.60 L918.89,689.03 L920.54,689.44 L922.18,689.83 L923.83,690.21 L925.47,690.56 L927.11,690.90 L928.76,691.21 L930.40,691.51 L932.04,691.79 L933.69,692.05 L935.33,692.29 L936.97,692.51 L938.61,692.71 L940.25,692.90 L941.89,693.06 L943.53,693.20 L945.17,693.33 L946.81,693.43 L948.45,693.52 L950.08,693.59 L951.72,693.63 L953.36,693.66 L955.00,693.67 L956.63,693.66 L958.27,693.62 L959.91,693.57 L961.54,693.50 L962.37,693.45 A2.65,2.65 0 0 1 962.63,698.75 L962.63,698.75 L961.79,698.79 L960.09,698.85 L958.38,698.88 L956.68,698.90 L954.98,698.90 L953.28,698.88 L951.58,698.83 L949.88,698.77 L948.18,698.69 L946.48,698.58 L944.78,698.46 L943.09,698.31 L941.39,698.15 L939.69,697.96 L937.99,697.76 L936.30,697.53 L934.60,697.29 L932.90,697.02 L931.21,696.74 L929.51,696.43 L927.82,696.11 L926.12,695.77 L924.43,695.40 L922.74,695.02 L921.04,694.62 L919.35,694.20 L917.66,693.76 L915.97,693.30 L914.28,692.83 L912.59,692.33 L910.90,691.82 L909.21,691.28 L907.52,690.73 L905.83,690.16 L904.14,689.57 L902.45,688.97 L900.76,688.34 L899.08,687.70 L897.39,687.04 L895.71,686.36 L894.02,685.66 L892.34,684.94 L890.65,684.21 L888.97,683.46 L887.28,682.69 L885.60,681.90 L883.92,681.10 L882.24,680.27 L880.55,679.44 L878.87,678.58 L877.19,677.70 L875.51,676.81 L873.83,675.90 L872.15,674.98 L870.47,674.04 L868.79,673.08 L867.11,672.10 L865.44,671.11 L863.76,670.10 L862.08,669.07 L860.41,668.03 L858.73,666.97 L857.05,665.89 L855.38,664.80 L853.70,663.69 L852.03,662.56 L850.35,661.42 L848.68,660.26 L847.00,659.09 L845.33,657.90 L843.66,656.69 L841.99,655.47 L840.31,654.23 L838.64,652.98 L836.97,651.71 L835.30,650.43 L833.63,649.13 L831.96,647.81 L830.29,646.48 L828.62,645.14 L826.95,643.77 L825.28,642.40 L823.61,641.01 L821.94,639.60 L820.27,638.18 L818.60,636.74 L816.93,635.29 L815.27,633.82 L813.60,632.34 L811.93,630.84 L810.27,629.33 L808.60,627.81 L806.93,626.27 L805.27,624.71 L803.60,623.15 L801.94,621.56 L800.27,619.97 L798.61,618.35 L796.94,616.73 L795.28,615.09 L793.61,613.44 L791.95,611.77 L790.29,610.09 L788.62,608.39 L786.96,606.68 L785.30,604.96 L783.64,603.22 L781.98,601.47 L780.31,599.71 L778.65,597.93 L776.99,596.14 L775.33,594.34 L773.67,592.53 L772.01,590.70 L770.35,588.85 L768.69,587.00 L767.03,585.13 L765.37,583.25 L763.72,581.35 L762.06,579.44 L760.40,577.52 L758.74,575.59 L757.08,573.64 L755.43,571.69 L753.77,569.72 L752.11,567.73 L750.46,565.74 L748.80,563.73 L747.15,561.71 L745.49,559.68 L743.84,557.63 L742.19,555.57 L740.53,553.50 L738.88,551.42 L737.23,549.33 L735.58,547.22 L733.93,545.11 L732.28,542.98 L730.63,540.84 L728.98,538.68 L727.33,536.52 L725.69,534.34 L724.04,532.15 L722.40,529.95 L720.76,527.74 L719.12,525.51 L717.48,523.27 L715.85,521.02 L714.23,518.75 L712.64,516.45 Z" fill="url(#curveO)"/>
<path d="M723.29,516.68 L724.86,516.97 L726.42,517.26 L727.99,517.56 L729.55,517.84 L731.12,518.13 L732.68,518.41 L734.25,518.69 L735.81,518.97 L737.37,519.24 L738.94,519.52 L740.50,519.79 L742.07,520.06 L743.63,520.34 L745.20,520.61 L746.76,520.89 L748.33,521.17 L749.89,521.45 L751.46,521.74 L753.03,522.04 L754.60,522.33 L756.16,522.64 L757.73,522.95 L759.30,523.27 L760.87,523.60 L762.44,523.93 L764.02,524.28 L765.59,524.63 L767.16,525.00 L768.73,525.38 L770.31,525.77 L771.88,526.18 L773.46,526.60 L775.04,527.03 L776.62,527.48 L778.19,527.95 L779.77,528.43 L781.35,528.93 L782.93,529.45 L784.52,529.99 L786.10,530.55 L787.68,531.13 L789.27,531.73 L790.85,532.35 L792.44,532.99 L794.03,533.66 L795.61,534.35 L797.20,535.07 L798.79,535.81 L800.38,536.58 L801.98,537.38 L803.57,538.22 L805.17,539.08 L806.76,539.98 L808.36,540.92 L809.95,541.91 L811.54,542.95 L813.13,544.02 L814.71,545.14 L816.30,546.30 L817.88,547.50 L819.47,548.76 L821.06,550.06 L822.64,551.41 L824.23,552.81 L825.81,554.26 L827.40,555.77 L828.98,557.33 L830.56,558.94 L832.13,560.59 L833.70,562.26 L835.26,563.95 L836.82,565.64 L838.38,567.32 L839.93,568.99 L841.48,570.64 L843.03,572.26 L844.58,573.86 L846.13,575.44 L847.68,576.99 L849.23,578.52 L850.78,580.03 L852.33,581.51 L853.88,582.97 L855.42,584.40 L856.97,585.81 L858.52,587.20 L860.07,588.56 L861.61,589.89 L863.16,591.20 L864.70,592.48 L866.25,593.74 L867.79,594.97 L869.34,596.18 L870.88,597.36 L872.42,598.51 L873.97,599.64 L875.51,600.74 L877.05,601.81 L878.59,602.86 L880.13,603.87 L881.67,604.87 L883.21,605.83 L884.75,606.77 L886.29,607.67 L887.83,608.56 L889.37,609.42 L890.90,610.25 L892.44,611.06 L893.98,611.84 L895.52,612.61 L897.06,613.36 L898.60,614.08 L900.13,614.79 L901.67,615.48 L903.21,616.15 L904.75,616.81 L906.29,617.45 L907.82,618.07 L909.36,618.68 L910.90,619.27 L912.44,619.85 L913.98,620.41 L915.53,620.96 L917.07,621.50 L918.61,622.03 L920.15,622.55 L921.70,623.06 L923.24,623.56 L924.79,624.05 L926.33,624.53 L927.88,625.01 L929.43,625.48 L930.98,625.94 L932.52,626.40 L934.07,626.86 L935.62,627.31 L937.17,627.76 L938.72,628.21 L940.28,628.65 L941.83,629.10 L943.38,629.54 L944.93,629.99 L946.49,630.43 L948.04,630.88 L949.59,631.34 L951.15,631.79 L952.70,632.25 L954.26,632.72 L955.81,633.19 L956.59,633.42 L956.01,635.44 L955.23,635.23 L953.66,634.82 L952.10,634.41 L950.54,634.01 L948.97,633.61 L947.41,633.21 L945.84,632.81 L944.28,632.42 L942.71,632.02 L941.15,631.63 L939.58,631.23 L938.01,630.83 L936.45,630.43 L934.88,630.03 L933.31,629.62 L931.74,629.21 L930.17,628.79 L928.60,628.36 L927.03,627.93 L925.46,627.49 L923.89,627.05 L922.31,626.59 L920.74,626.12 L919.16,625.65 L917.59,625.16 L916.01,624.66 L914.44,624.14 L912.86,623.61 L911.28,623.07 L909.70,622.51 L908.13,621.94 L906.55,621.35 L904.97,620.74 L903.39,620.12 L901.81,619.47 L900.23,618.81 L898.64,618.12 L897.06,617.41 L895.48,616.68 L893.90,615.93 L892.32,615.15 L890.74,614.34 L889.16,613.51 L887.58,612.66 L886.01,611.78 L884.43,610.87 L882.85,609.94 L881.27,608.98 L879.69,607.99 L878.11,606.97 L876.53,605.93 L874.95,604.86 L873.38,603.76 L871.80,602.64 L870.22,601.49 L868.65,600.31 L867.07,599.10 L865.50,597.88 L863.93,596.62 L862.35,595.34 L860.78,594.03 L859.21,592.70 L857.64,591.35 L856.06,589.96 L854.49,588.56 L852.92,587.13 L851.35,585.67 L849.78,584.20 L848.21,582.69 L846.64,581.17 L845.07,579.62 L843.50,578.04 L841.93,576.45 L840.37,574.83 L838.80,573.19 L837.23,571.52 L835.66,569.84 L834.10,568.15 L832.54,566.46 L830.99,564.78 L829.44,563.13 L827.90,561.51 L826.36,559.94 L824.82,558.43 L823.28,556.96 L821.75,555.56 L820.22,554.20 L818.68,552.89 L817.15,551.64 L815.62,550.43 L814.09,549.26 L812.55,548.14 L811.02,547.06 L809.49,546.03 L807.96,545.03 L806.43,544.06 L804.91,543.12 L803.39,542.20 L801.87,541.32 L800.34,540.48 L798.82,539.66 L797.29,538.86 L795.76,538.10 L794.23,537.36 L792.70,536.64 L791.17,535.95 L789.64,535.28 L788.10,534.63 L786.57,534.00 L785.04,533.39 L783.50,532.80 L781.96,532.23 L780.43,531.67 L778.89,531.14 L777.35,530.62 L775.81,530.12 L774.27,529.63 L772.73,529.16 L771.19,528.70 L769.64,528.25 L768.10,527.82 L766.55,527.40 L765.01,526.98 L763.46,526.58 L761.92,526.19 L760.37,525.81 L758.82,525.44 L757.27,525.07 L755.72,524.72 L754.17,524.36 L752.62,524.02 L751.07,523.67 L749.52,523.34 L747.97,523.00 L746.41,522.67 L744.86,522.34 L743.31,522.01 L741.75,521.68 L740.20,521.35 L738.65,521.02 L737.09,520.69 L735.54,520.35 L733.98,520.02 L732.43,519.67 L730.87,519.33 L729.32,518.97 L727.77,518.61 L726.21,518.24 L724.66,517.86 L723.11,517.46 Z" fill="url(#curveG)"/>

<defs><linearGradient id="pg0" x1="0" y1="0.2" x2="1" y2="0.8"><stop offset="0" stop-color="#a8d998"/><stop offset="1" stop-color="#76c16e"/></linearGradient><linearGradient id="pg1" x1="0" y1="0.2" x2="1" y2="0.8"><stop offset="0" stop-color="#92d086"/><stop offset="1" stop-color="#68bc64"/></linearGradient><linearGradient id="pg2" x1="0" y1="0.2" x2="1" y2="0.8"><stop offset="0" stop-color="#82ca7a"/><stop offset="1" stop-color="#5bb55b"/></linearGradient><linearGradient id="pg3" x1="0" y1="0.2" x2="1" y2="0.8"><stop offset="0" stop-color="#84cb7c"/><stop offset="1" stop-color="#4ca74f"/></linearGradient><linearGradient id="pg4" x1="0" y1="0.2" x2="1" y2="0.8"><stop offset="0" stop-color="#9ed592"/><stop offset="1" stop-color="#58b259"/></linearGradient><linearGradient id="pg5" x1="0" y1="0.2" x2="1" y2="0.8"><stop offset="0" stop-color="#60b760"/><stop offset="1" stop-color="#3d9d47"/></linearGradient></defs><ellipse cx="603.75" cy="670.6" rx="8.1" ry="8.0" fill="url(#pg0)"/><path d="M590.75,705.60 L590.75,690.70 C590.75,684.40 596.00,680.20 601.25,680.20 L606.25,680.20 C611.50,680.20 616.75,684.40 616.75,690.70 L616.75,705.60 Z" fill="url(#pg0)"/><line x1="594.25" y1="693.60" x2="594.25" y2="704.60" stroke="#fff" stroke-width="1" opacity="0.7"/>
<ellipse cx="629.5" cy="670.2" rx="8.1" ry="8.0" fill="url(#pg1)"/><path d="M616.50,705.20 L616.50,690.30 C616.50,684.00 621.75,679.80 627.00,679.80 L632.00,679.80 C637.25,679.80 642.50,684.00 642.50,690.30 L642.50,705.20 Z" fill="url(#pg1)"/>
<ellipse cx="655.9" cy="670.2" rx="8.1" ry="8.0" fill="url(#pg2)"/><path d="M642.90,705.20 L642.90,690.30 C642.90,684.00 648.15,679.80 653.40,679.80 L658.40,679.80 C663.65,679.80 668.90,684.00 668.90,690.30 L668.90,705.20 Z" fill="url(#pg2)"/>
<ellipse cx="682.9" cy="670.6" rx="8.1" ry="8.0" fill="url(#pg3)"/><path d="M669.90,705.60 L669.90,690.70 C669.90,684.40 675.15,680.20 680.40,680.20 L685.40,680.20 C690.65,680.20 695.90,684.40 695.90,690.70 L695.90,705.60 Z" fill="url(#pg3)"/><line x1="692.40" y1="693.60" x2="692.40" y2="704.60" stroke="#fff" stroke-width="1" opacity="0.7"/>
<ellipse cx="629" cy="687.6" rx="9.4" ry="7.8" fill="url(#pg4)" stroke="#fff" stroke-width="3.0" paint-order="stroke"/><path d="M616.40,720.40 L616.40,706.90 C616.40,700.60 621.65,696.40 626.90,696.40 L631.10,696.40 C636.35,696.40 641.60,700.60 641.60,706.90 L641.60,720.40 Z" fill="url(#pg4)" stroke="#fff" stroke-width="3.0" paint-order="stroke"/><line x1="620.00" y1="710.60" x2="620.00" y2="719.40" stroke="#fff" stroke-width="1" opacity="0.7"/>
<ellipse cx="654.1" cy="687.8" rx="9.4" ry="7.8" fill="url(#pg5)" stroke="#fff" stroke-width="3.0" paint-order="stroke"/><path d="M641.50,720.60 L641.50,707.10 C641.50,700.80 646.75,696.60 652.00,696.60 L656.20,696.60 C661.45,696.60 666.70,700.80 666.70,707.10 L666.70,720.60 Z" fill="url(#pg5)" stroke="#fff" stroke-width="3.0" paint-order="stroke"/><line x1="663.10" y1="710.80" x2="663.10" y2="719.60" stroke="#fff" stroke-width="1" opacity="0.7"/>
<defs><linearGradient id="po0" x1="0" y1="0.2" x2="1" y2="0.8"><stop offset="0" stop-color="#f59868"/><stop offset="1" stop-color="#ee7242"/></linearGradient><linearGradient id="po1" x1="0" y1="0.2" x2="1" y2="0.8"><stop offset="0" stop-color="#f28555"/><stop offset="1" stop-color="#ea6434"/></linearGradient><linearGradient id="po2" x1="0" y1="0.2" x2="1" y2="0.8"><stop offset="0" stop-color="#ef7a4a"/><stop offset="1" stop-color="#e65a2e"/></linearGradient><linearGradient id="po3" x1="0" y1="0.2" x2="1" y2="0.8"><stop offset="0" stop-color="#ee7040"/><stop offset="1" stop-color="#e24c22"/></linearGradient><linearGradient id="po4" x1="0" y1="0.2" x2="1" y2="0.8"><stop offset="0" stop-color="#f38a5a"/><stop offset="1" stop-color="#e8592b"/></linearGradient><linearGradient id="po5" x1="0" y1="0.2" x2="1" y2="0.8"><stop offset="0" stop-color="#ed6c3c"/><stop offset="1" stop-color="#df4820"/></linearGradient></defs><ellipse cx="872.6" cy="733.6" rx="8.1" ry="8.0" fill="url(#po0)"/><path d="M859.60,768.60 L859.60,753.70 C859.60,747.40 864.85,743.20 870.10,743.20 L875.10,743.20 C880.35,743.20 885.60,747.40 885.60,753.70 L885.60,768.60 Z" fill="url(#po0)"/><line x1="863.10" y1="756.60" x2="863.10" y2="767.60" stroke="#fff" stroke-width="1" opacity="0.7"/>
<ellipse cx="899.3" cy="733.4" rx="8.1" ry="8.0" fill="url(#po1)"/><path d="M886.30,768.40 L886.30,753.50 C886.30,747.20 891.55,743.00 896.80,743.00 L901.80,743.00 C907.05,743.00 912.30,747.20 912.30,753.50 L912.30,768.40 Z" fill="url(#po1)"/>
<ellipse cx="925.9" cy="733.6" rx="8.1" ry="8.0" fill="url(#po2)"/><path d="M912.90,768.60 L912.90,753.70 C912.90,747.40 918.15,743.20 923.40,743.20 L928.40,743.20 C933.65,743.20 938.90,747.40 938.90,753.70 L938.90,768.60 Z" fill="url(#po2)"/>
<ellipse cx="953.4" cy="733.6" rx="8.1" ry="8.0" fill="url(#po3)"/><path d="M940.40,768.60 L940.40,753.70 C940.40,747.40 945.65,743.20 950.90,743.20 L955.90,743.20 C961.15,743.20 966.40,747.40 966.40,753.70 L966.40,768.60 Z" fill="url(#po3)"/><line x1="962.90" y1="756.60" x2="962.90" y2="767.60" stroke="#fff" stroke-width="1" opacity="0.7"/>
<ellipse cx="898.6" cy="749.6" rx="9.4" ry="7.8" fill="url(#po4)" stroke="#fff" stroke-width="3.0" paint-order="stroke"/><path d="M886.00,782.40 L886.00,768.90 C886.00,762.60 891.25,758.40 896.50,758.40 L900.70,758.40 C905.95,758.40 911.20,762.60 911.20,768.90 L911.20,782.40 Z" fill="url(#po4)" stroke="#fff" stroke-width="3.0" paint-order="stroke"/><line x1="889.60" y1="772.60" x2="889.60" y2="781.40" stroke="#fff" stroke-width="1" opacity="0.7"/>
<ellipse cx="925.9" cy="749.4" rx="9.4" ry="7.8" fill="url(#po5)" stroke="#fff" stroke-width="3.0" paint-order="stroke"/><path d="M913.30,782.20 L913.30,768.70 C913.30,762.40 918.55,758.20 923.80,758.20 L928.00,758.20 C933.25,758.20 938.50,762.40 938.50,768.70 L938.50,782.20 Z" fill="url(#po5)" stroke="#fff" stroke-width="3.0" paint-order="stroke"/><line x1="934.90" y1="772.40" x2="934.90" y2="781.20" stroke="#fff" stroke-width="1" opacity="0.7"/>
</svg>
</body></html>
